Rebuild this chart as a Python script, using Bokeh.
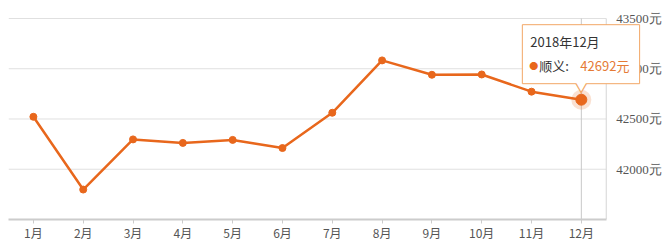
from bokeh.plotting import figure
from bokeh.models import Range1d, FixedTicker, Label, ColumnDataSource
from bokeh.embed import file_html
from bokeh.resources import INLINE

months = ["1月", "2月", "3月", "4月", "5月", "6月", "7月", "8月", "9月", "10月", "11月", "12月"]
prices = [42522, 41798, 42297, 42262, 42292, 42211, 42562, 43083, 42940, 42943, 42772, 42692]
y_ticks = [42000, 42500, 43000, 43500]
y_floor = 41500
series_name = "顺义"
tip_title = "2018年12月"

ORANGE = "#e8671c"
FONT = "Noto Sans CJK SC"
GRID = "#e0e0e0"
TIP_BORDER = "#f2a766"

n = len(months)
xs = [i + 0.5 for i in range(n)]          # category band centres

# frame spans the whole width so the tooltip is never clipped; room on the right for labels
p = figure(width=669, height=243, x_range=Range1d(0, 13.27), y_range=Range1d(y_floor, 43679),
           output_backend="svg", toolbar_location=None, y_axis_location=None,
           min_border_left=8, min_border_top=0, min_border_right=0, min_border_bottom=24)
p.outline_line_color = None
p.background_fill_color = "white"
p.border_fill_color = "white"
p.xgrid.grid_line_color = None
p.ygrid.grid_line_color = None

# horizontal grid lines, limited to the category area
grid_src = ColumnDataSource(dict(y=y_ticks, x0=[0] * len(y_ticks), x1=[n] * len(y_ticks)))
p.segment(x0="x0", x1="x1", y0="y", y1="y", source=grid_src, line_color=GRID, line_width=1)

# right frame edge and crosshair at the last month
p.segment(x0=[n, xs[-1]], x1=[n, xs[-1]], y0=[y_floor, y_floor], y1=[y_ticks[-1], y_ticks[-1]],
          line_color=["#d6d6d6", "#c8c8c8"], line_width=1)

# y tick labels on the right
p.text(x=[n] * len(y_ticks), y=y_ticks, text=[f"{t}元" for t in y_ticks], x_offset=10,
       text_baseline="middle", text_align="left", text_font=FONT, text_font_size="13px",
       text_color="#555555")

# x axis
xa = p.xaxis[0]
xa.ticker = FixedTicker(ticks=xs)
xa.major_label_overrides = {x: m for x, m in zip(xs, months)}
xa.bounds = (0, n)
xa.axis_line_color = "#cccccc"
xa.axis_line_width = 2
xa.major_tick_line_color = "#cccccc"
xa.major_tick_out = 4
xa.major_tick_in = 0
xa.minor_tick_line_color = None
xa.major_label_standoff = 0
xa.major_label_text_font = FONT
xa.major_label_text_font_size = "12px"
xa.major_label_text_color = "#555555"

src = ColumnDataSource(dict(x=xs, y=prices))
p.line("x", "y", source=src, line_color=ORANGE, line_width=2.5)
p.scatter("x", "y", source=src, size=7, fill_color=ORANGE, line_color=ORANGE)

# emphasised last point
last_src = ColumnDataSource(dict(x=xs[-1:], y=prices[-1:]))
p.scatter("x", "y", source=last_src, size=20, fill_color=ORANGE, fill_alpha=0.2, line_color=None)
p.scatter("x", "y", source=last_src, size=11, fill_color=ORANGE, line_color=ORANGE)

# tooltip
lx, ly = xs[-1], prices[-1]
box = Label(x=lx, y=ly, text=tip_title, x_offset=-59, y_offset=75, anchor="top_left",
            text_font=FONT, text_font_size="13px", text_color="#333333",
            background_fill_color="white", border_line_color=TIP_BORDER, border_line_width=1,
            padding=dict(left=8, right=40, top=7, bottom=33))
p.add_layout(box)
p.add_layout(Label(x=lx, y=ly, text="▼", x_offset=0, y_offset=12, anchor="center",
                   text_font=FONT, text_font_size="12px", text_color=TIP_BORDER))
p.add_layout(Label(x=lx, y=ly, text="▼", x_offset=0, y_offset=13.5, anchor="center",
                   text_font=FONT, text_font_size="10px", text_color="white"))
p.add_layout(Label(x=lx, y=ly, text="●", x_offset=-52, y_offset=34, anchor="center_left",
                   text_font=FONT, text_font_size="9px", text_color=ORANGE))
p.add_layout(Label(x=lx, y=ly, text=series_name + ":", x_offset=-42, y_offset=34, anchor="center_left",
                   text_font=FONT, text_font_size="13px", text_color="#333333"))
p.add_layout(Label(x=lx, y=ly, text=f"{prices[-1]}元", x_offset=-1, y_offset=34, anchor="center_left",
                   text_font=FONT, text_font_size="13px", text_color="#e57a35"))

open("out.html", "w").write(file_html(p, INLINE))
